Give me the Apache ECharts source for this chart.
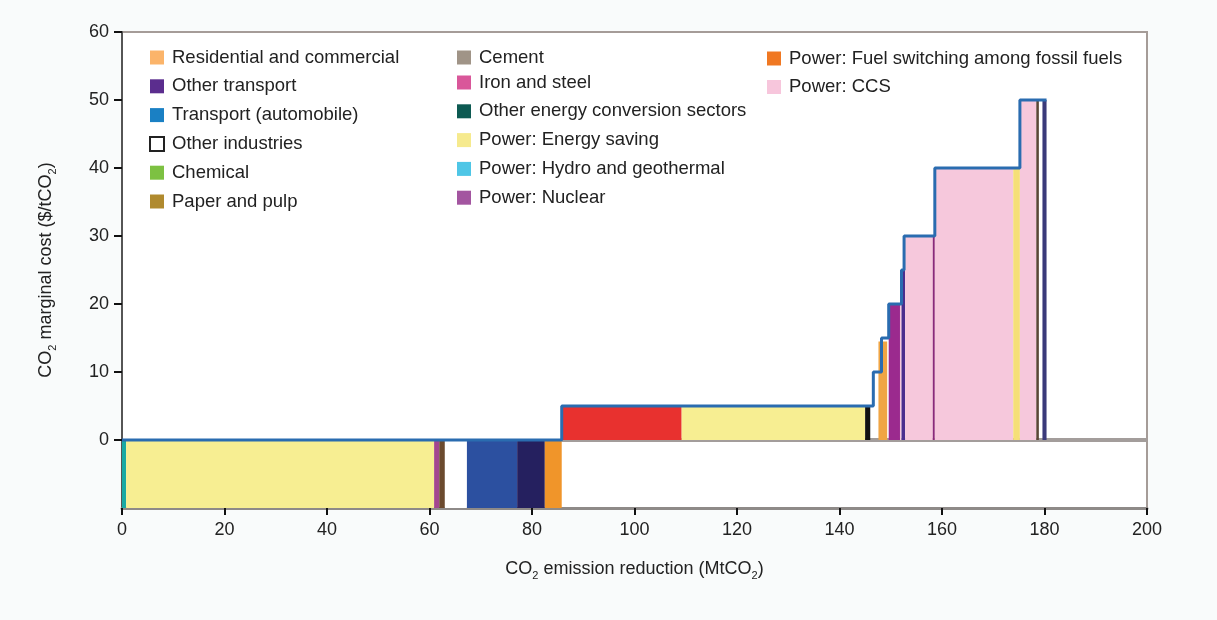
<!DOCTYPE html>
<html>
<head>
<meta charset="utf-8">
<script src="https://cdn.jsdelivr.net/npm/echarts@6/dist/echarts.min.js"></script>
<style>html,body{margin:0;padding:0;background:#f9fbfb;}#c{width:1217px;height:620px;}</style>
</head>
<body>
<div id="c"></div>
<script>
// ---- data ----
const xTicks = [0, 20, 40, 60, 80, 100, 120, 140, 160, 180, 200];
const yTicks = [0, 10, 20, 30, 40, 50, 60];
// segments of the cost curve (MtCO2 start, end; cost low, high)
const segStart = [0, 0.8, 60.9, 61.9, 63.0, 67.3, 77.1, 82.5, 85.8, 109.2, 145.0, 147.6, 149.6, 151.8, 152.1, 152.8, 158.2, 158.6, 173.9, 175.2, 178.4, 179.6];
const segEnd   = [0.8, 60.9, 61.9, 63.0, 67.3, 77.1, 82.5, 85.8, 109.2, 145.0, 146.0, 149.3, 151.8, 152.1, 152.8, 158.2, 158.6, 173.9, 175.2, 178.4, 178.9, 180.4];
const segLow   = [-10, -10, -10, -10, -10, -10, -10, -10, 0, 0, 0, 0, 0, 0, 0, 0, 0, 0, 0, 0, 0, 0];
const segHigh  = [0, 0, 0, 0, 0, 0, 0, 0, 5, 5, 5, 14.5, 20, 20, 25, 30, 30, 40, 40, 50, 50, 50];
// step outline of marginal cost
const stepX = [0, 85.8, 146.6, 148.2, 149.6, 152.1, 152.6, 158.6, 175.2, 180.4];
const stepY = [0, 5, 10, 15, 20, 25, 30, 40, 50];
const zeroLineX = [85.8, 200];
const legendNames = [
  'Residential and commercial', 'Other transport', 'Transport (automobile)', 'Other industries', 'Chemical', 'Paper and pulp',
  'Cement', 'Iron and steel', 'Other energy conversion sectors', 'Power: Energy saving', 'Power: Hydro and geothermal', 'Power: Nuclear',
  'Power: Fuel switching among fossil fuels', 'Power: CCS'
];

// ---- styles ----
const segColors = ['#1aa9a3', '#f7ee92', '#a3468f', '#6b4a2e', '#ffffff', '#2c50a0', '#25205f', '#f0952a', '#e8312f', '#f7ee92', '#111111', '#f0a544', '#9b2a8e', '#f6c8dc', '#4a2e8e', '#f6c8dc', '#8a2a7a', '#f6c8dc', '#f5df78', '#f6c8dc', '#5a4636', '#3a3a7a'];
const legendColors = ['#fbb46a', '#5b2d8e', '#1a80c4', '#ffffff', '#7dc142', '#b08a2e', '#a09487', '#d9579a', '#0d5a52', '#f6ea8e', '#4ec6e6', '#a355a0', '#f07822', '#f7c6dc'];

const segData = segStart.map((s, i) => [s, segEnd[i], segLow[i], segHigh[i]]);
const stepData = [];
for (let i = 0; i < stepY.length; i++) { stepData.push([stepX[i], stepY[i]]); stepData.push([stepX[i + 1], stepY[i]]); }

const font = 'Liberation Sans, Arial, sans-serif';
const dummySeries = legendNames.map((n, i) => ({
  name: n, type: 'scatter', data: [],
  itemStyle: n === 'Other industries' ? { color: '#fff', borderColor: '#222', borderWidth: 1.2, opacity: 1 } : { color: legendColors[i], opacity: 1 }
}));
function mkLegend(names, left, top, gap) {
  return { data: names, left: left, top: top, padding: 0, orient: 'vertical', icon: 'rect', itemWidth: 14, itemHeight: 14, itemGap: gap,
    itemStyle: { opacity: 1 },
    textStyle: { fontFamily: font, fontSize: 18.5, lineHeight: 16, color: '#222', padding: [0, 0, 0, 3] }, selectedMode: false };
}

const chart = echarts.init(document.getElementById('c'));
chart.setOption({
  animation: false,
  backgroundColor: '#f9fbfb',
  grid: { left: 122, right: 70, top: 32, bottom: 112, show: true, backgroundColor: '#ffffff', borderColor: '#a59c98', borderWidth: 2 },
  legend: [
    mkLegend(legendNames.slice(0, 6), 149, 48, 9.8),
    mkLegend(legendNames.slice(6, 7), 457, 48, 9),
    mkLegend(legendNames.slice(7, 12), 457, 73, 9.8),
    mkLegend(legendNames.slice(12, 14), 767, 49, 9.5)
  ],
  xAxis: {
    type: 'value', min: 0, max: 200, interval: 20,
    axisLine: { show: true, onZero: false, lineStyle: { color: '#8e8a88', width: 3 } },
    axisTick: { show: true, length: 7, lineStyle: { color: '#111', width: 2 } },
    axisLabel: { fontFamily: font, fontSize: 18, color: '#222', margin: 13, customValues: xTicks },
    splitLine: { show: false },
    name: 'CO{sub|2} emission reduction (MtCO{sub|2})', nameLocation: 'middle', nameGap: 50,
    nameTextStyle: { fontFamily: font, fontSize: 18, color: '#222', rich: { sub: { fontSize: 11, verticalAlign: 'bottom', padding: [12, 0, 0, 0] } } }
  },
  yAxis: {
    type: 'value', min: -10, max: 60, interval: 10,
    axisLine: { show: true, onZero: false, lineStyle: { color: '#555', width: 2 } },
    axisTick: { show: true, length: 8, lineStyle: { color: '#111', width: 2 }, customValues: yTicks },
    axisLabel: { fontFamily: font, fontSize: 18, color: '#222', margin: 13, customValues: yTicks },
    splitLine: { show: false },
    name: 'CO{sub|2} marginal cost ($/tCO{sub|2})', nameLocation: 'middle', nameGap: 64,
    nameTextStyle: { fontFamily: font, fontSize: 18, color: '#222', rich: { sub: { fontSize: 11, verticalAlign: 'bottom', padding: [12, 0, 0, 0] } } }
  },
  series: [
    {
      type: 'line', data: zeroLineX.map(x => [x, 0]), symbol: 'none', z: 1,
      lineStyle: { color: '#a39d9b', width: 4 }, silent: true
    },
    {
      type: 'custom', z: 2, data: segData,
      renderItem: function (params, api) {
        const p0 = api.coord([api.value(0), api.value(3)]);
        const p1 = api.coord([api.value(1), api.value(2)]);
        return { type: 'rect', shape: { x: p0[0], y: p0[1], width: p1[0] - p0[0], height: p1[1] - p0[1] },
          style: { fill: segColors[params.dataIndex] } };
      }
    },
    {
      type: 'line', data: stepData, symbol: 'none', z: 3,
      lineStyle: { color: '#2a6cb0', width: 3 }, silent: true
    }
  ].concat(dummySeries)
});
</script>
</body>
</html>
